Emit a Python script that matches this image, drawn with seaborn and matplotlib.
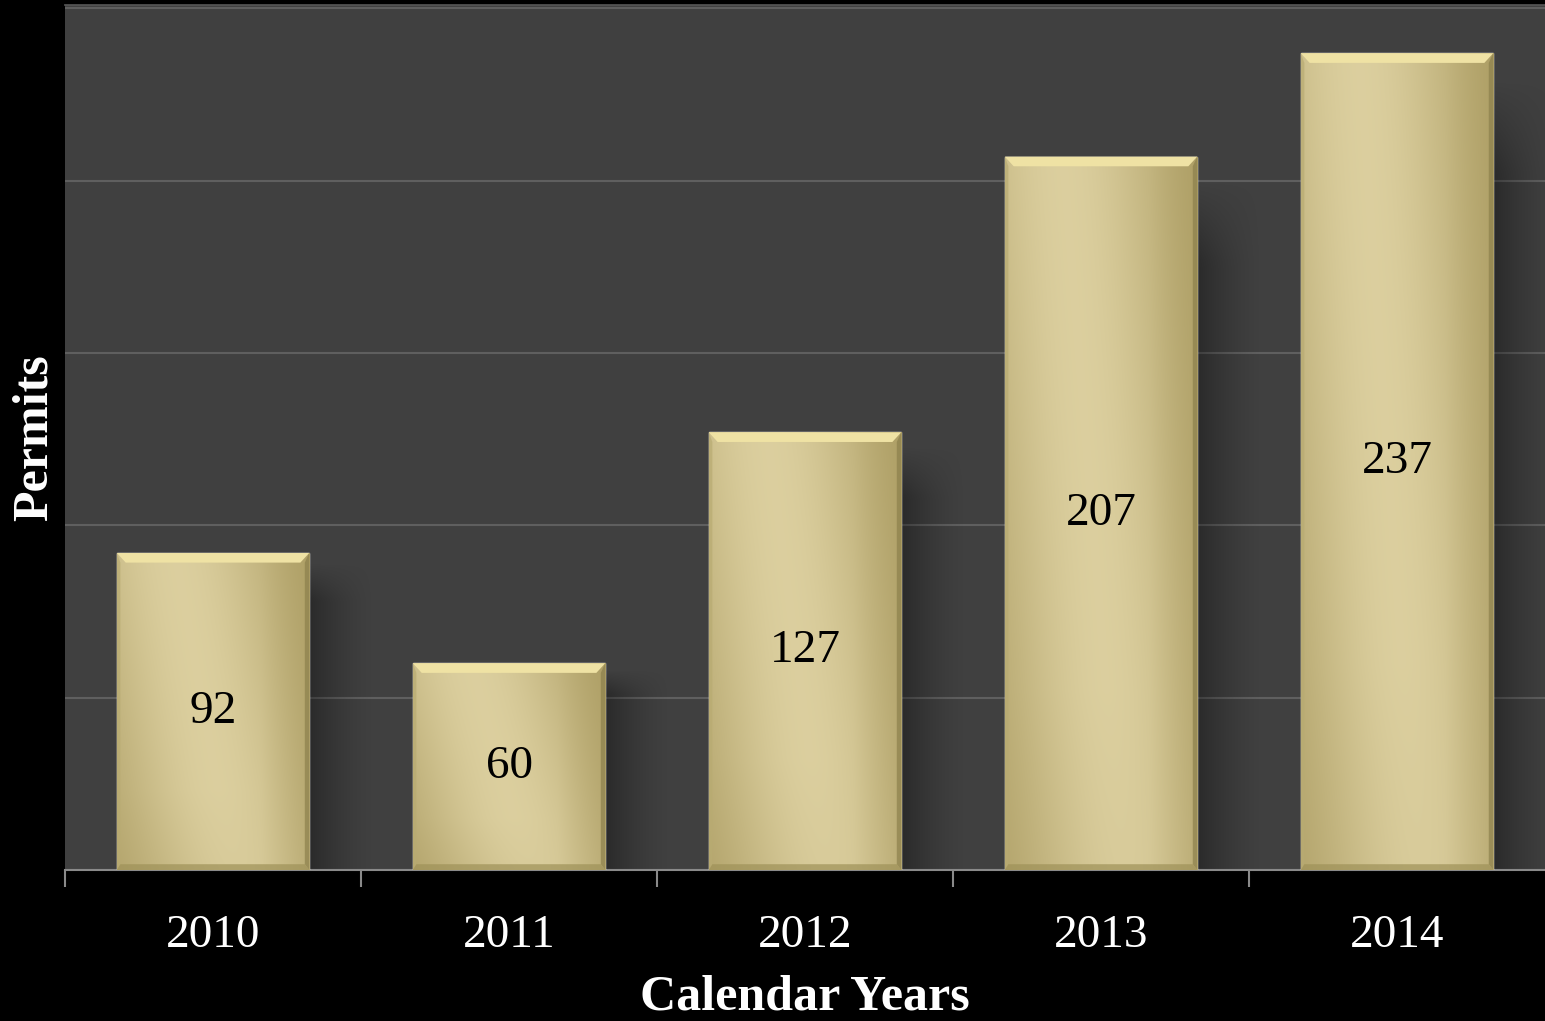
import numpy as np
import pandas as pd
import matplotlib
matplotlib.use('Agg')
import matplotlib.pyplot as plt
from matplotlib.patches import Polygon
import seaborn as sns

# ─── Data ────────────────────────────────────────────────────────────────────
years   = ['2010', '2011', '2012', '2013', '2014']
permits = [92, 60, 127, 207, 237]

df = pd.DataFrame({'year': years, 'permits': permits})

# ─── Style ───────────────────────────────────────────────────────────────────
sns.set_theme(style='dark')
plt.rcParams['font.family'] = ['Liberation Serif', 'DejaVu Serif']

BG      = '#000000'
PANEL   = '#404040'
GRID    = '#5f5f5f'
LIGHT   = np.array([0.86, 0.81, 0.62])
DARK    = np.array([0.66, 0.60, 0.37])

fig = plt.figure(figsize=(15.45, 10.21), dpi=100, facecolor=BG)
ax = fig.add_axes([0.0421, 0.1479, 0.9579, 0.8472])
ax.set_facecolor(PANEL)

sns.barplot(data=df, x='year', y='permits', width=0.65, color='#cfc28a',
            ax=ax, zorder=3, saturation=1)

# gold gradient + shadow + bevel on each bar
ny, nx = 200, 120
yy, xx = np.mgrid[0:1:ny * 1j, 0:1:nx * 1j]   # yy: 0 bottom .. 1 top
for p in ax.patches:
    x0, w, h = p.get_x(), p.get_width(), p.get_height()
    c = 0.30 + 0.30 * (1 - yy)
    k = np.exp(-((xx - c) / 0.55) ** 2)
    k = k * (1 - 0.35 * np.clip((xx - 0.75) / 0.25, 0, 1))
    k = k * (1 - 0.15 * np.clip((0.25 - yy) / 0.25, 0, 1) * (1 - xx))
    img = DARK[None, None, :] + (LIGHT - DARK)[None, None, :] * k[..., None]
    im = ax.imshow(img, extent=[x0, x0 + w, 0, h], origin='lower',
                   aspect='auto', zorder=4, interpolation='bilinear')
    im.set_clip_path(p)

    # soft drop shadow to the right
    sy, sx = np.mgrid[0:1:80j, 0:1:60j]
    sh = np.zeros((80, 60, 4))
    top_fade = np.clip((1 - sy) / 0.12, 0, 1)
    sh[..., 3] = 0.34 * (1 - sx) ** 1.5 * top_fade
    ax.imshow(sh, extent=[x0 + w, x0 + w + 0.22, 0, h * 0.97], origin='lower',
              aspect='auto', zorder=2, interpolation='bilinear')

    # bevel edges
    b = 2.8
    bx = 0.03
    ax.add_patch(Polygon([(x0, h), (x0 + w, h), (x0 + w - bx, h - b), (x0 + bx, h - b)],
                         closed=True, facecolor='#efe2a4', edgecolor='none', zorder=5))
    ax.add_patch(Polygon([(x0 + w, h), (x0 + w, 0), (x0 + w - bx * 0.5, b * 0.6),
                          (x0 + w - bx * 0.5, h - b)],
                         closed=True, facecolor='#8c804c', edgecolor='none', zorder=5, alpha=0.7))
    ax.add_patch(Polygon([(x0, h), (x0, 0), (x0 + bx * 0.4, b * 0.6), (x0 + bx * 0.4, h - b)],
                         closed=True, facecolor='#b8ab72', edgecolor='none', zorder=5, alpha=0.7))
    ax.add_patch(Polygon([(x0, 0), (x0 + w, 0), (x0 + w - bx * 0.5, b * 0.6), (x0 + bx * 0.4, b * 0.6)],
                         closed=True, facecolor='#9e9158', edgecolor='none', zorder=5, alpha=0.7))

# value labels centred in bars
for i, val in enumerate(permits):
    ax.text(i, val / 2, str(val), ha='center', va='center', fontsize=34,
            color='black', zorder=6)

ax.set_xlim(-0.5, 4.5)
ax.set_ylim(0, 251)
ax.set_yticks([0, 50, 100, 150, 200, 250])
ax.set_yticklabels([])
ax.tick_params(axis='y', length=0)
ax.grid(axis='y', color=GRID, lw=1.5, zorder=1)
ax.grid(axis='x', visible=False)
ax.set_axisbelow(True)

ax.set_xticks(range(len(years)))
ax.set_xticklabels(years, fontsize=34, color='white')
ax.set_xticks(np.arange(-0.5, 4.5, 1), minor=True)
ax.tick_params(axis='x', which='major', length=0, pad=32, bottom=True)
ax.tick_params(axis='x', which='minor', length=12, width=1.5, color='#8a8a8a',
               direction='out', bottom=True)

for s in ['left', 'right']:
    ax.spines[s].set_visible(False)
ax.spines['top'].set_color('#555555')
ax.spines['bottom'].set_color('#8a8a8a')
ax.spines['bottom'].set_linewidth(1.5)

ax.set_xlabel('Calendar Years', fontsize=36, fontweight='bold', color='white', labelpad=13)
ax.set_ylabel('Permits', fontsize=36, fontweight='bold', color='white', labelpad=2)

fig.savefig('out.png', dpi=100, facecolor=BG)
